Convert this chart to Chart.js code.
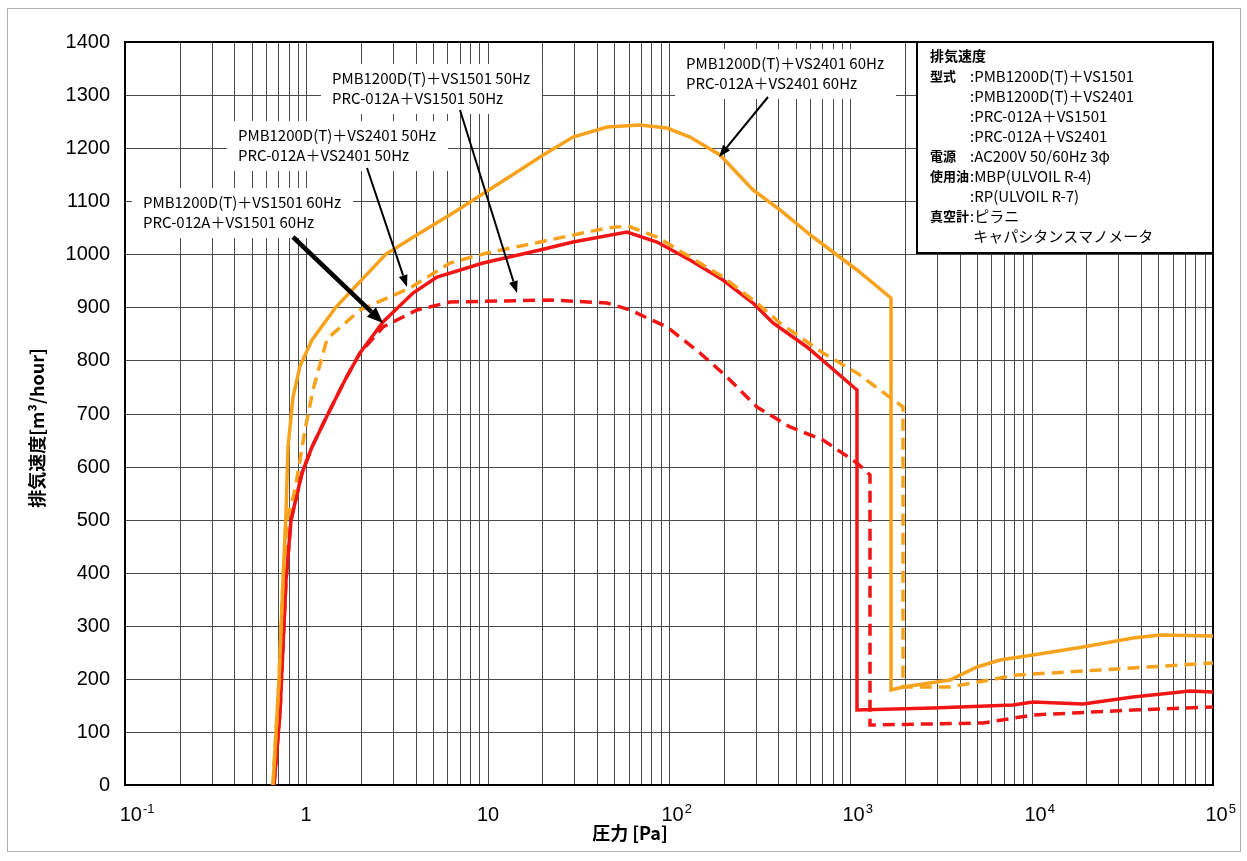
<!DOCTYPE html>
<html>
<head>
<meta charset="utf-8">
<script src="https://cdn.jsdelivr.net/npm/chart.js@4.4.1/dist/chart.umd.min.js"></script>
<style>
  html, body { margin: 0; padding: 0; background: #fff; }
  #wrap { width: 1247px; height: 861px; }
</style>
</head>
<body>
<div id="wrap"><canvas id="chart" width="1247" height="861"></canvas></div>
<script>
// pressure [Pa] / pumping speed [m3/hour]
// PMB1200D(T)+VS2401 60Hz (orange, solid)
var p2401_60 = [0.655, 0.706, 0.743, 0.773, 0.793, 0.843, 0.923, 1.075, 1.458, 2.75, 4.24, 6.44, 15.1, 19.4, 29.6, 45.5, 69.2, 97.5, 131, 191, 290, 409, 622, 1089, 1680, 1680, 1950, 3550, 5000, 6680, 10200, 19200, 36200, 51000, 100000];
var v2401_60 = [0, 198, 386, 512, 637, 731, 790, 838, 900, 1000, 1040, 1078, 1159, 1183, 1221, 1240, 1244, 1238, 1221, 1187, 1121, 1083, 1033, 970, 918, 179, 185, 198, 223, 235, 245, 260, 277, 283, 281];

// PMB1200D(T)+VS2401 50Hz (orange, dashed)
var p2401_50 = [0.655, 0.706, 0.743, 0.782, 0.866, 0.984, 1.089, 1.30, 1.98, 3.73, 6.20, 9.92, 19.4, 29.6, 45.5, 59.4, 85.9, 131, 199, 306, 409, 706, 1089, 1950, 1950, 3550, 8300, 23800, 100000];
var v2401_50 = [0, 198, 386, 500, 556, 669, 744, 840, 895, 936, 983, 1002, 1023, 1036, 1050, 1053, 1033, 995, 957, 908, 870, 814, 776, 712, 185, 185, 207, 217, 229];

// PMB1200D(T)+VS1501 60Hz (red, solid)
var p1501_60 = [0.662, 0.716, 0.773, 0.823, 0.947, 1.075, 1.27, 1.63, 1.98, 2.65, 3.87, 5.26, 9.42, 19.4, 29.6, 58.7, 85.9, 131, 199, 290, 375, 577, 1089, 1089, 2860, 7890, 10200, 19200, 36200, 74700, 100000];
var v1501_60 = [0, 136, 386, 500, 588, 637, 688, 763, 814, 872, 927, 957, 983, 1008, 1023, 1042, 1023, 989, 952, 908, 870, 825, 744, 141, 145, 151, 156, 153, 166, 177, 175];

// PMB1200D(T)+VS1501 50Hz (red, dashed)
var p1501_50 = [0.662, 0.716, 0.773, 0.823, 0.947, 1.075, 1.27, 1.63, 1.98, 2.65, 4.08, 6.20, 22.1, 45.5, 60.9, 97.5, 148, 209, 306, 465, 706, 1089, 1283, 1283, 5390, 10200, 36200, 100000];
var v1501_50 = [0, 136, 386, 500, 588, 637, 688, 763, 814, 863, 895, 910, 914, 908, 895, 863, 814, 769, 712, 675, 650, 607, 584, 113, 117, 132, 141, 147];

var xDecades = [0.1, 1, 10, 100, 1000, 10000, 100000];
var xTickLabels = [['10', '-1'], ['1', ''], ['10', ''], ['10', '2'], ['10', '3'], ['10', '4'], ['10', '5']];
var gridSteps = [1, 2, 3, 4, 5, 6, 7, 8, 9];
var yMin = 0, yMax = 1400, yStep = 100;

var xTitle = '圧力 [Pa]';
var yTitle = '排気速度[m³/hour]';

// callouts: text anchor and arrow in data units
var callouts = [
    { lines: ['PMB1200D(T)＋VS1501 60Hz', 'PRC-012A＋VS1501 60Hz'], at: [0.1257, 1098], tail: [0.844, 1033], tip: [2.65, 871], heavy: true },
    { lines: ['PMB1200D(T)＋VS2401 50Hz', 'PRC-012A＋VS2401 50Hz'], at: [0.42, 1225], tail: [2.16, 1163], tip: [3.59, 938], heavy: false },
    { lines: ['PMB1200D(T)＋VS1501 50Hz', 'PRC-012A＋VS1501 50Hz'], at: [1.386, 1332], tail: [7.04, 1272], tip: [14.5, 927], heavy: false },
    { lines: ['PMB1200D(T)＋VS2401 60Hz', 'PRC-012A＋VS2401 60Hz'], at: [124, 1360], tail: [352, 1296], tip: [189, 1183], heavy: false }
];

var specTitle = '排気速度';
var specRows = [
    ['型式', ':PMB1200D(T)＋VS1501'],
    ['', ':PMB1200D(T)＋VS2401'],
    ['', ':PRC-012A＋VS1501'],
    ['', ':PRC-012A＋VS2401'],
    ['電源', ':AC200V 50/60Hz 3φ'],
    ['使用油', ':MBP(ULVOIL R-4)'],
    ['', ':RP(ULVOIL R-7)'],
    ['真空計', ':ピラニ'],
    ['', ' キャパシタンスマノメータ']
];

var ORANGE = 'rgb(247,162,28)';
var RED = 'rgb(240,22,22)';
var GRID = '#4a4a4a';
var JP = '"Noto Sans CJK JP", "Noto Sans", sans-serif';
var NUM = '"Liberation Sans", Arial, sans-serif';

function pts(xs, ys) {
    var out = [];
    for (var i = 0; i < xs.length; i++) out.push({ x: xs[i], y: ys[i] });
    return out;
}

var gridValues = [];
for (var d = 0; d < xDecades.length; d++) {
    for (var k = 0; k < gridSteps.length; k++) {
        var gv = xDecades[d] * gridSteps[k];
        if (gv <= xDecades[xDecades.length - 1] * 1.0001) gridValues.push(gv);
    }
}

function drawArrow(ctx, x1, y1, x2, y2, lw, head, headW) {
    var a = Math.atan2(y2 - y1, x2 - x1);
    var bx = x2 - head * Math.cos(a), by = y2 - head * Math.sin(a);
    ctx.lineWidth = lw;
    ctx.beginPath();
    ctx.moveTo(x1, y1);
    ctx.lineTo(bx, by);
    ctx.stroke();
    ctx.beginPath();
    ctx.moveTo(x2, y2);
    ctx.lineTo(bx + headW / 2 * Math.sin(a), by - headW / 2 * Math.cos(a));
    ctx.lineTo(bx - headW / 2 * Math.sin(a), by + headW / 2 * Math.cos(a));
    ctx.closePath();
    ctx.fill();
}

function calloutBox(chart, c) {
    var ctx = chart.ctx;
    ctx.font = '15px ' + JP;
    var w = 0;
    c.lines.forEach(function (t) { w = Math.max(w, ctx.measureText(t).width); });
    var x = chart.scales.x.getPixelForValue(c.at[0]);
    var y = chart.scales.y.getPixelForValue(c.at[1]);
    return { x: x, y: y, w: w, left: x - 11, top: y - 14, width: w + 23, height: 20 * (c.lines.length - 1) + 30 };
}

var decor = {
    id: 'decor',
    beforeDraw: function (chart) {
        var ctx = chart.ctx;
        ctx.save();
        ctx.fillStyle = '#fff';
        ctx.fillRect(0, 0, chart.width, chart.height);
        ctx.strokeStyle = '#b0b0b0';
        ctx.lineWidth = 1;
        ctx.strokeRect(7.5, 8.5, 1233, 843);
        ctx.restore();
    },
    beforeDatasetsDraw: function (chart) {
        var ctx = chart.ctx, a = chart.chartArea;
        ctx.save();
        ctx.fillStyle = '#fff';
        callouts.forEach(function (c) {
            var b = calloutBox(chart, c);
            ctx.fillRect(b.left, b.top, b.width, b.height);
        });
        ctx.strokeStyle = '#000';
        ctx.lineWidth = 2;
        ctx.strokeRect(a.left, a.top, a.right - a.left, a.bottom - a.top);
        ctx.restore();
    },
    afterDatasetsDraw: function (chart) {
        var ctx = chart.ctx, a = chart.chartArea;
        var sx = chart.scales.x, sy = chart.scales.y;
        ctx.save();

        // callout text and arrows
        callouts.forEach(function (c) {
            var b = calloutBox(chart, c);
            ctx.fillStyle = '#000';
            ctx.textAlign = 'left';
            ctx.textBaseline = 'middle';
            ctx.font = '15px ' + JP;
            c.lines.forEach(function (t, i) { ctx.fillText(t, b.x, b.y + i * 20); });
            ctx.strokeStyle = '#000';
            if (c.heavy) {
                drawArrow(ctx, sx.getPixelForValue(c.tail[0]), sy.getPixelForValue(c.tail[1]),
                    sx.getPixelForValue(c.tip[0]), sy.getPixelForValue(c.tip[1]), 4.5, 16, 13);
            } else {
                drawArrow(ctx, sx.getPixelForValue(c.tail[0]), sy.getPixelForValue(c.tail[1]),
                    sx.getPixelForValue(c.tip[0]), sy.getPixelForValue(c.tip[1]), 2, 12, 9);
            }
        });

        // spec box, top right
        var bw = 296, bh = 211;
        var bl = a.right - bw, bt = a.top;
        ctx.fillStyle = '#fff';
        ctx.fillRect(bl, bt, bw, bh);
        ctx.strokeStyle = '#000';
        ctx.lineWidth = 2;
        ctx.strokeRect(bl, bt, bw, bh);
        ctx.fillStyle = '#000';
        ctx.textAlign = 'left';
        ctx.textBaseline = 'middle';
        ctx.font = 'bold 14px ' + JP;
        ctx.fillText(specTitle, bl + 13, bt + 14);
        specRows.forEach(function (r, i) {
            var ty = bt + 14 + (i + 1) * 20;
            if (r[0]) {
                ctx.font = 'bold 13px ' + JP;
                ctx.fillText(r[0], bl + 13, ty);
            }
            ctx.font = '15px ' + JP;
            ctx.fillText(r[1], bl + 53, ty);
        });

        // x tick labels with superscripts
        ctx.fillStyle = '#000';
        ctx.textBaseline = 'alphabetic';
        ctx.textAlign = 'left';
        xDecades.forEach(function (v, i) {
            var px = sx.getPixelForValue(v);
            ctx.font = '20px ' + NUM;
            var bwid = ctx.measureText(xTickLabels[i][0]).width;
            ctx.font = '13px ' + NUM;
            var swid = xTickLabels[i][1] ? ctx.measureText(xTickLabels[i][1]).width : 0;
            var x0 = px - bwid / 2 + swid / 2;
            ctx.font = '20px ' + NUM;
            ctx.fillText(xTickLabels[i][0], x0, a.bottom + 36);
            if (swid) {
                ctx.font = '13px ' + NUM;
                ctx.fillText(xTickLabels[i][1], x0 + bwid + 1, a.bottom + 28);
            }
        });

        // axis titles
        ctx.font = 'bold 18px ' + JP;
        ctx.textAlign = 'center';
        ctx.textBaseline = 'middle';
        ctx.fillText(xTitle, 630, a.bottom + 48);
        ctx.translate(37, 428);
        ctx.rotate(-Math.PI / 2);
        ctx.fillText(yTitle, 0, 0);
        ctx.restore();
    }
};

var ctx = document.getElementById('chart').getContext('2d');

var myChart = new Chart(ctx, {
    type: 'line',
    data: {
        datasets: [{
            label: 'PMB1200D(T)＋VS2401 60Hz',
            data: pts(p2401_60, v2401_60),
            borderColor: ORANGE,
            borderWidth: 3.5
        }, {
            label: 'PMB1200D(T)＋VS2401 50Hz',
            data: pts(p2401_50, v2401_50),
            borderColor: ORANGE,
            borderWidth: 3.5,
            borderDash: [12, 7]
        }, {
            label: 'PMB1200D(T)＋VS1501 60Hz',
            data: pts(p1501_60, v1501_60),
            borderColor: RED,
            borderWidth: 3.5
        }, {
            label: 'PMB1200D(T)＋VS1501 50Hz',
            data: pts(p1501_50, v1501_50),
            borderColor: RED,
            borderWidth: 3.5,
            borderDash: [12, 7]
        }]
    },
    options: {
        responsive: false,
        animation: false,
        events: [],
        elements: {
            point: { radius: 0 },
            line: { tension: 0, fill: false }
        },
        layout: { padding: { top: 42, right: 34, bottom: 0, left: 0 } },
        plugins: {
            legend: { display: false },
            tooltip: { enabled: false }
        },
        scales: {
            x: {
                type: 'logarithmic',
                min: xDecades[0],
                max: xDecades[xDecades.length - 1],
                alignToPixels: true,
                afterBuildTicks: function (s) {
                    s.ticks = gridValues.map(function (v) { return { value: v }; });
                },
                afterFit: function (s) { s.height = 76; },
                ticks: { display: false },
                grid: { color: GRID, lineWidth: 1, drawTicks: false },
                border: { display: false }
            },
            y: {
                min: yMin,
                max: yMax,
                alignToPixels: true,
                afterFit: function (s) { s.width = 125; },
                ticks: {
                    stepSize: yStep,
                    padding: 15,
                    color: '#000',
                    font: { family: NUM, size: 20 },
                    callback: function (v) { return String(v); }
                },
                grid: { color: GRID, lineWidth: 1, drawTicks: false },
                border: { display: false }
            }
        }
    },
    plugins: [decor]
});
</script>
</body>
</html>
